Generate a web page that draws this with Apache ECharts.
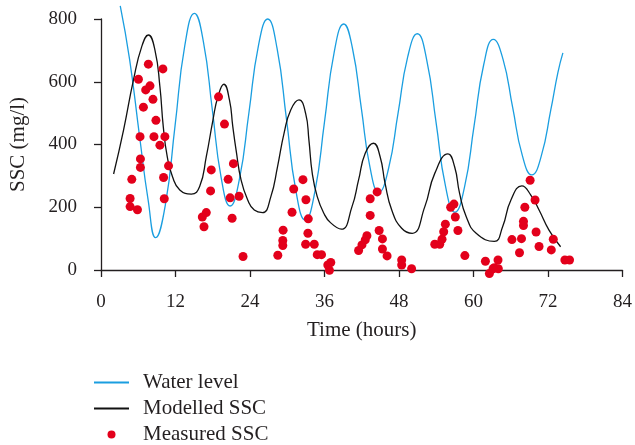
<!DOCTYPE html>
<html>
<head>
<meta charset="utf-8">
<script src="https://cdn.jsdelivr.net/npm/echarts@6/dist/echarts.min.js"></script>
<style>
  html, body { margin: 0; padding: 0; background: #fff; }
  #chart { width: 635px; height: 445px; }
</style>
</head>
<body>
<div id="chart"></div>
<script>
// Time axis ticks (hours) and SSC axis ticks (mg/l)
const timeTicks = [0, 12, 24, 36, 48, 60, 72, 84];
const sscTicks = [0, 200, 400, 600, 800];

// Water level trace, [time (h), value on the SSC scale]
const waterLevel = [
  [3.1, 842], [4.6, 672], [6.2, 428], [7.6, 222], [8.8, 103],
  [10.36, 207], [11.93, 460], [13.49, 714], [15.05, 818],
  [16.49, 728], [17.93, 511], [19.36, 294], [20.8, 204],
  [22.31, 291], [23.83, 502], [25.34, 713], [26.85, 800],
  [28.36, 706], [29.88, 480], [31.39, 253], [32.9, 159],
  [34.45, 250], [36.0, 472], [37.55, 693], [39.1, 784],
  [40.51, 706], [41.93, 516], [43.34, 326], [44.75, 248],
  [46.3, 322], [47.85, 500], [49.4, 679], [50.95, 753],
  [52.46, 670], [53.98, 469], [55.49, 267], [57.0, 184],
  [58.55, 264], [60.1, 460], [61.65, 655], [63.2, 735],
  [64.75, 672], [66.3, 519], [67.85, 366], [69.4, 303],
  [70.9, 362], [72.45, 510], [73.6, 630], [74.4, 692]
];

// Modelled SSC, [time (h), mg/l]
const modelledSSC = [
  [2.03, 306], [3.63, 446], [5.23, 606], [6.56, 712], [7.63, 749],
  [8.69, 701], [9.49, 584], [10.03, 457], [10.67, 361], [11.52, 297],
  [12.69, 255], [14.56, 242], [15.89, 266], [16.96, 361], [18.03, 478],
  [18.83, 552], [19.79, 592], [20.69, 542], [21.23, 457], [21.76, 382],
  [22.56, 287], [23.63, 223], [24.69, 191], [26.03, 183], [27.36, 234],
  [28.43, 329], [29.49, 436], [30.56, 510], [31.89, 542], [32.96, 499],
  [33.49, 414], [34.03, 308], [34.83, 234], [35.89, 181], [36.96, 151],
  [38.72, 130], [40.43, 202], [41.49, 287], [42.56, 372], [43.89, 404],
  [44.96, 361], [45.76, 276], [46.83, 191], [48.43, 133], [50.13, 117],
  [52.16, 202], [53.76, 308], [55.89, 370], [56.96, 329], [57.76, 244],
  [58.83, 170], [60.43, 117], [63.36, 91], [64.69, 138], [66.03, 223],
  [67.79, 268], [69.23, 239], [70.56, 191], [72.16, 127], [74.03, 74]
];

// Measured SSC samples, [time (h), mg/l]
const measuredSSC = [
  [7.63, 656], [9.97, 641], [6.03, 608], [7.89, 587], [7.2, 574],
  [8.37, 544], [6.83, 519], [8.85, 477], [6.29, 425], [8.53, 425],
  [10.29, 425], [9.49, 398], [6.35, 354], [6.35, 327], [10.88, 332],
  [10.08, 295], [4.96, 289], [4.69, 228], [10.19, 227], [4.69, 202],
  [5.87, 192],
  [17.76, 319], [17.65, 252], [16.96, 183], [16.32, 169], [16.59, 138],
  [18.93, 552], [19.89, 465], [21.33, 339], [20.48, 289], [20.8, 230],
  [22.24, 235], [21.12, 165], [22.88, 43],
  [28.48, 47], [29.33, 127], [29.28, 94], [29.28, 78], [30.77, 184],
  [31.04, 258], [32.53, 288], [33.01, 224], [33.39, 163], [33.33, 117],
  [32.96, 82], [34.35, 82], [34.83, 49], [35.52, 49], [36.53, 16],
  [36.8, -1], [37.01, 24],
  [43.36, 227], [44.48, 249], [43.36, 174], [44.8, 126], [45.33, 99],
  [45.33, 67], [46.08, 45], [42.83, 109], [42.56, 96], [42.03, 80],
  [41.49, 62],
  [48.43, 32], [48.43, 16], [50.03, 4],
  [53.76, 82], [54.56, 82], [54.93, 98], [55.2, 122], [55.47, 146],
  [56.32, 200], [56.85, 210], [57.07, 169], [57.49, 126], [58.61, 46],
  [61.92, 28], [63.95, 32], [63.36, 7], [64.0, 4], [62.56, -11], [63.15, 4],
  [66.19, 97], [67.41, 55], [67.73, 100], [68.05, 142], [68.05, 155],
  [68.27, 200], [69.12, 286], [69.92, 223], [70.08, 121], [70.56, 75],
  [72.53, 64], [72.85, 98], [74.72, 32], [75.47, 32]
];

const seriesNames = ['Water level', 'Modelled SSC', 'Measured SSC'];

const FONT = 'Liberation Serif';
const INK = '#231f20';
const BLUE = '#1a9ee0';
const RED = '#e3001b';
const TICK_FONT = 19;
const TITLE_FONT = 21;

// line-only legend keys: hide the marker that sits on the short line
const hiddenMarker = { color: 'rgba(0,0,0,0)', borderWidth: 0, opacity: 0 };

const chart = echarts.init(document.getElementById('chart'), null, { renderer: 'canvas' });

chart.setOption({
  animation: false,
  backgroundColor: '#ffffff',
  textStyle: { fontFamily: FONT, color: INK },
  grid: { left: 99, right: 11, top: 19, bottom: 175, containLabel: false },
  legend: {
    orient: 'vertical',
    left: 93,
    top: 372,
    height: 120,
    padding: 0,
    itemWidth: 35,
    itemHeight: 8,
    itemGap: 5,
    data: [
      { name: seriesNames[0], itemStyle: hiddenMarker },
      { name: seriesNames[1], itemStyle: hiddenMarker },
      { name: seriesNames[2], icon: 'circle' }
    ],
    textStyle: {
      fontFamily: FONT, fontSize: TITLE_FONT, color: INK,
      lineHeight: 19, padding: [0, 0, 0, 9]
    }
  },
  xAxis: {
    type: 'value',
    min: timeTicks[0],
    max: timeTicks[timeTicks.length - 1],
    interval: timeTicks[1] - timeTicks[0],
    offset: 10,
    name: 'Time (hours)',
    nameLocation: 'middle',
    nameGap: 40,
    nameTextStyle: { fontFamily: FONT, fontSize: TITLE_FONT, color: INK },
    axisLine: { lineStyle: { color: INK, width: 1.3 } },
    axisTick: { inside: false, length: 7, lineStyle: { color: INK, width: 1.3 } },
    axisLabel: { fontFamily: FONT, fontSize: TICK_FONT, color: INK, margin: 13 },
    splitLine: { show: false }
  },
  yAxis: {
    type: 'value',
    min: sscTicks[0],
    max: sscTicks[sscTicks.length - 1],
    interval: sscTicks[1] - sscTicks[0],
    offset: 7,
    name: 'SSC (mg/l)',
    nameLocation: 'middle',
    nameGap: 65,
    nameTextStyle: { fontFamily: FONT, fontSize: TITLE_FONT, color: INK },
    axisLine: { show: true, lineStyle: { color: INK, width: 1.3 } },
    axisTick: { show: true, inside: false, length: 7, lineStyle: { color: INK, width: 1.3 } },
    axisLabel: { fontFamily: FONT, fontSize: TICK_FONT, color: INK, margin: 17 },
    splitLine: { show: false }
  },
  series: [
    {
      name: seriesNames[0],
      type: 'line',
      data: waterLevel,
      smooth: 0.5,
      symbol: 'none',
      clip: false,
      lineStyle: { color: BLUE, width: 1.3 },
      itemStyle: { color: BLUE },
      z: 2
    },
    {
      name: seriesNames[1],
      type: 'line',
      data: modelledSSC,
      smooth: 0.5,
      symbol: 'none',
      clip: false,
      lineStyle: { color: '#111111', width: 1.3 },
      itemStyle: { color: '#111111' },
      z: 3
    },
    {
      name: seriesNames[2],
      type: 'scatter',
      data: measuredSSC,
      symbol: 'circle',
      symbolSize: 9,
      clip: false,
      itemStyle: { color: RED, opacity: 1 },
      z: 4
    }
  ]
});
</script>
</body>
</html>
